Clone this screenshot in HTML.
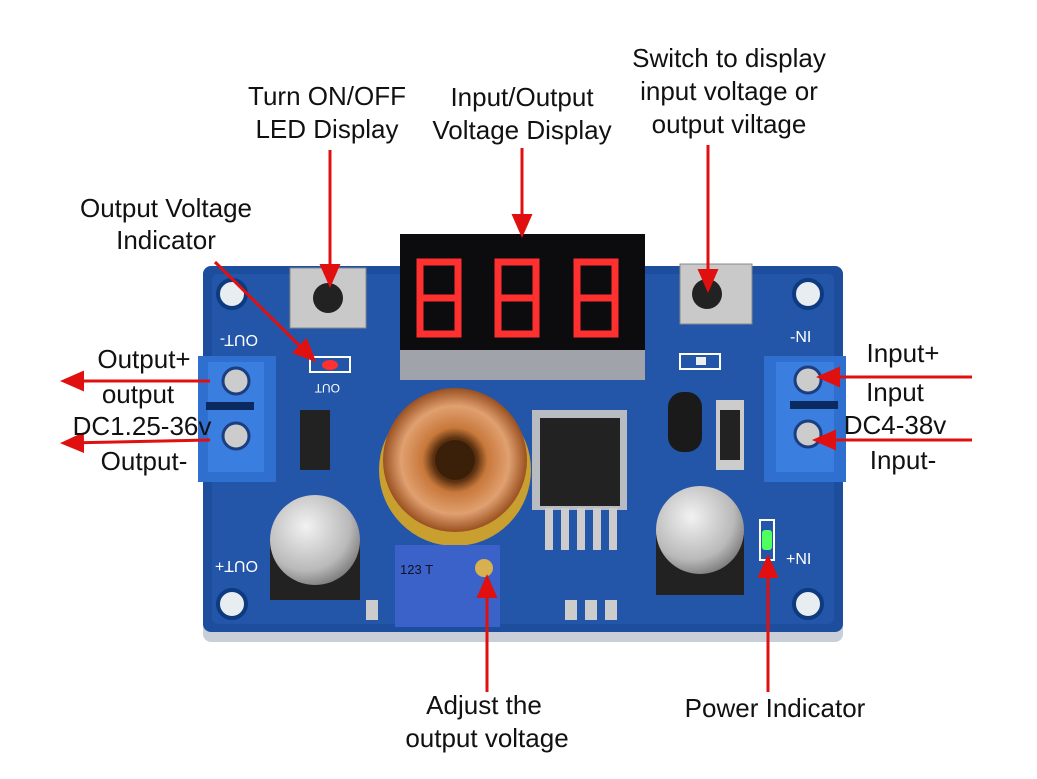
<!DOCTYPE html>
<html><head><meta charset="utf-8"><style>
html,body{margin:0;padding:0;background:#fff;}
svg{display:block;}
text{font-family:"Liberation Sans","DejaVu Sans",sans-serif;font-size:26px;fill:#111;}
</style></head><body>
<svg width="1037" height="779" viewBox="0 0 1037 779" xmlns="http://www.w3.org/2000/svg">
<defs>
<radialGradient id="cap" cx="0.4" cy="0.35" r="0.7"><stop offset="0" stop-color="#f2f2f2"/><stop offset="0.7" stop-color="#b9b9b9"/><stop offset="1" stop-color="#777"/></radialGradient>
<radialGradient id="cu" cx="0.5" cy="0.5" r="0.5"><stop offset="0.3" stop-color="#5a3010"/><stop offset="0.45" stop-color="#c8783a"/><stop offset="0.75" stop-color="#e0a070"/><stop offset="1" stop-color="#9a5020"/></radialGradient>
<marker id="ah" markerWidth="8" markerHeight="8" refX="6" refY="4" orient="auto" markerUnits="strokeWidth"><path d="M0,0.5 L8,4 L0,7.5 Z" fill="#e01010"/></marker>
</defs>
<rect x="203" y="266" width="640" height="376" rx="8" fill="#c8cfd8"/>
<rect x="203" y="266" width="640" height="366" rx="8" fill="#1d4e9e"/>
<rect x="212" y="274" width="622" height="350" rx="6" fill="#2356a8"/>
<circle cx="232" cy="294" r="14" fill="#e8edf2" stroke="#0e3a80" stroke-width="4"/>
<circle cx="808" cy="294" r="14" fill="#e8edf2" stroke="#0e3a80" stroke-width="4"/>
<circle cx="232" cy="604" r="14" fill="#e8edf2" stroke="#0e3a80" stroke-width="4"/>
<circle cx="808" cy="604" r="14" fill="#e8edf2" stroke="#0e3a80" stroke-width="4"/>
<rect x="198" y="356" width="78" height="126" fill="#2f6fd0"/>
<rect x="208" y="362" width="56" height="110" fill="#3a7ee0"/>
<circle cx="236" cy="381" r="13" fill="#ccc" stroke="#1a3e80" stroke-width="3"/>
<circle cx="236" cy="436" r="13" fill="#ccc" stroke="#1a3e80" stroke-width="3"/>
<rect x="206" y="402" width="48" height="8" fill="#0a2a60"/>
<rect x="764" y="356" width="82" height="126" fill="#2f6fd0"/>
<rect x="776" y="362" width="58" height="110" fill="#3a7ee0"/>
<circle cx="808" cy="380" r="13" fill="#ccc" stroke="#1a3e80" stroke-width="3"/>
<circle cx="808" cy="434" r="13" fill="#ccc" stroke="#1a3e80" stroke-width="3"/>
<rect x="790" y="401" width="48" height="8" fill="#0a2a60"/>
<rect x="290" y="268" width="76" height="60" fill="#c9c9c9" stroke="#888"/>
<circle cx="328" cy="298" r="15" fill="#222"/>
<rect x="680" y="264" width="72" height="60" fill="#c9c9c9" stroke="#888"/>
<circle cx="707" cy="294" r="15" fill="#222"/>
<rect x="310" y="357" width="40" height="15" fill="none" stroke="#fff" stroke-width="2"/>
<ellipse cx="330" cy="365" rx="8" ry="5" fill="#ff3030"/>
<text x="316" y="392" style="font-size:12px;fill:#fff" transform="rotate(180 328 388)">OUT</text>
<rect x="680" y="354" width="40" height="15" fill="none" stroke="#fff" stroke-width="2"/>
<rect x="696" y="357" width="10" height="8" fill="#eee"/>
<rect x="760" y="520" width="14" height="40" fill="none" stroke="#fff" stroke-width="2"/>
<rect x="762" y="530" width="10" height="20" rx="3" fill="#50ff60"/>
<rect x="400" y="234" width="245" height="146" fill="#a0a4aa"/>
<rect x="400" y="234" width="245" height="116" fill="#0c0c0e"/>
<g fill="none" stroke="#ff3030" stroke-width="7">
<path d="M420 262 h38 v72 h-38 z M420 298 h38"/>
<path d="M498 262 h38 v72 h-38 z M498 298 h38"/>
<path d="M577 262 h38 v72 h-38 z M577 298 h38"/>
</g>
<circle cx="455" cy="470" r="76" fill="#c9a030"/>
<circle cx="455" cy="460" r="72" fill="url(#cu)"/>
<circle cx="455" cy="460" r="20" fill="#3a2008"/>
<rect x="532" y="410" width="95" height="100" fill="#b8bcc2"/>
<rect x="540" y="418" width="80" height="88" fill="#222"/>
<g fill="#ccc"><rect x="545" y="508" width="8" height="42"/><rect x="561" y="508" width="8" height="42"/><rect x="577" y="508" width="8" height="42"/><rect x="593" y="508" width="8" height="42"/><rect x="609" y="508" width="8" height="42"/></g>
<rect x="668" y="392" width="34" height="60" rx="15" fill="#1a1a1a"/>
<rect x="716" y="400" width="28" height="70" fill="#ccc"/><rect x="720" y="410" width="20" height="50" fill="#222"/>
<rect x="300" y="410" width="30" height="60" fill="#222"/>
<rect x="270" y="540" width="90" height="60" fill="#222"/>
<circle cx="315" cy="540" r="45" fill="url(#cap)"/>
<rect x="656" y="535" width="88" height="60" fill="#222"/>
<circle cx="700" cy="530" r="44" fill="url(#cap)"/>
<rect x="395" y="545" width="105" height="82" fill="#3a62c8"/>
<circle cx="484" cy="568" r="9" fill="#d8b050"/>
<text x="400" y="574" style="font-size:13px;fill:#112">123 T</text>
<rect x="366" y="600" width="12" height="20" fill="#ccc"/><rect x="565" y="600" width="12" height="20" fill="#ccc"/><rect x="585" y="600" width="12" height="20" fill="#ccc"/><rect x="605" y="600" width="12" height="20" fill="#ccc"/>
<text x="218" y="345" style="font-size:16px;fill:#fff" transform="rotate(180 238 340)">OUT-</text>
<text x="218" y="573" style="font-size:16px;fill:#fff" transform="rotate(180 238 567)">OUT+</text>
<text x="790" y="342" style="font-size:16px;fill:#fff">-NI</text>
<text x="786" y="564" style="font-size:16px;fill:#fff">+NI</text>
<g stroke="#e01010" stroke-width="3" fill="none">
<line x1="210" y1="381" x2="66" y2="381" marker-end="url(#ah)"/>
<line x1="210" y1="440" x2="66" y2="443" marker-end="url(#ah)"/>
<line x1="972" y1="377" x2="822" y2="377" marker-end="url(#ah)"/>
<line x1="972" y1="440" x2="818" y2="440" marker-end="url(#ah)"/>
<line x1="330" y1="150" x2="330" y2="282" marker-end="url(#ah)"/>
<line x1="522" y1="148" x2="522" y2="232" marker-end="url(#ah)"/>
<line x1="708" y1="145" x2="708" y2="287" marker-end="url(#ah)"/>
<line x1="215" y1="262" x2="312" y2="358" marker-end="url(#ah)"/>
<line x1="487" y1="692" x2="487" y2="580" marker-end="url(#ah)"/>
<line x1="768" y1="692" x2="768" y2="560" marker-end="url(#ah)"/>
</g>
<g text-anchor="middle">
<text x="327" y="105">Turn ON/OFF</text><text x="327" y="138">LED Display</text>
<text x="522" y="106">Input/Output</text><text x="522" y="139">Voltage Display</text>
<text x="729" y="67">Switch to display</text><text x="729" y="100">input voltage or</text><text x="729" y="133">output viltage</text>
<text x="166" y="217">Output Voltage</text><text x="166" y="249">Indicator</text>
<text x="144" y="368">Output+</text><text x="138" y="403">output</text>
<text x="142" y="435">DC1.25-36v</text><text x="144" y="470">Output-</text>
<text x="903" y="362">Input+</text><text x="895" y="401">Input</text>
<text x="895" y="434">DC4-38v</text><text x="903" y="469">Input-</text>
<text x="484" y="714">Adjust the</text><text x="487" y="747">output voltage</text>
<text x="775" y="717">Power Indicator</text>
</g>
</svg>
</body></html>
